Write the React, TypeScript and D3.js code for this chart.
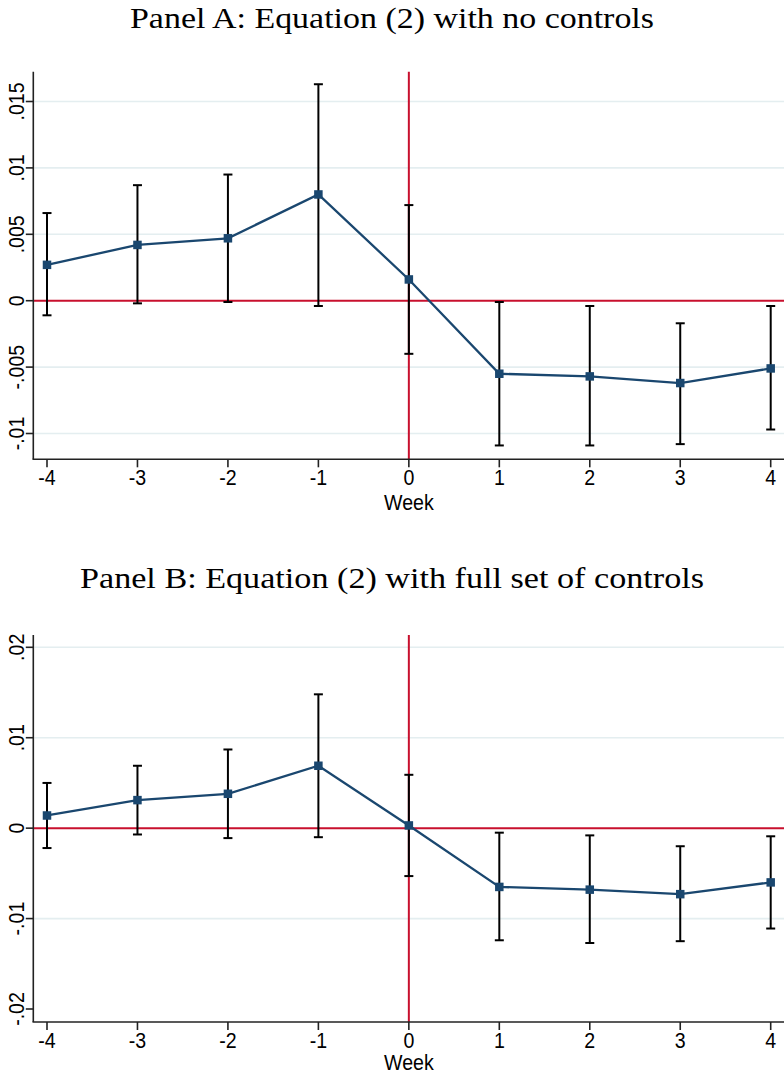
import React from "react";
import * as d3 from "d3";

// ---- Data ----
const weeks = [-4, -3, -2, -1, 0, 1, 2, 3, 4];

const panelACoef = [0.0027, 0.0042, 0.0047, 0.008, 0.0016, -0.0055, -0.0057, -0.0062, -0.0051];
const panelALo = [-0.0011, -0.0002, -0.0001, -0.0004, -0.004, -0.0109, -0.0109, -0.0108, -0.0097];
const panelAHi = [0.0066, 0.0087, 0.0095, 0.0163, 0.0072, -0.0001, -0.0004, -0.0017, -0.0004];
const panelATicks = [-0.01, -0.005, 0, 0.005, 0.01, 0.015];
const panelATickLabels = ["-.01", "-.005", "0", ".005", ".01", ".015"];
const panelAGrid = [-0.01, -0.005, 0.005, 0.01, 0.015];

const panelBCoef = [0.0014, 0.0031, 0.0038, 0.0069, 0.0003, -0.0065, -0.0068, -0.0073, -0.006];
const panelBLo = [-0.0022, -0.0007, -0.0011, -0.001, -0.0053, -0.0124, -0.0127, -0.0125, -0.0111];
const panelBHi = [0.005, 0.0069, 0.0087, 0.0148, 0.0059, -0.0005, -0.0008, -0.002, -0.0009];
const panelBTicks = [-0.02, -0.01, 0, 0.01, 0.02];
const panelBTickLabels = ["-.02", "-.01", "0", ".01", ".02"];
const panelBGrid = [-0.01, 0.01, 0.02];

const xTickLabels = ["-4", "-3", "-2", "-1", "0", "1", "2", "3", "4"];
const titleA = "Panel A: Equation (2) with no controls";
const titleB = "Panel B: Equation (2) with full set of controls";
const xTitle = "Week";

// ---- Styles ----
const NAVY = "#1a476f";
const RED = "#c8102e";
const GRID = "#e4eef0";
const AXIS = "#222";
const SANS = "'Liberation Sans', Arial, sans-serif";
const SERIF = "'Liberation Serif', 'Times New Roman', serif";
const W = 784;
const H = 1073;
const AXIS_X = 33.3;

type PanelProps = {
  title: string;
  titleLen: number;
  titleY: number;
  axisTop: number;
  axisBottom: number;
  weekY: number;
  yDomain: [number, number];
  yRange: [number, number];
  coef: number[];
  lo: number[];
  hi: number[];
  ticks: number[];
  tickLabels: string[];
  grid: number[];
};

function Panel(p: PanelProps) {
  const x = d3.scaleLinear().domain([-4, 4]).range([47, 770.7]);
  const y = d3.scaleLinear().domain(p.yDomain).range(p.yRange);
  const pts: [number, number][] = weeks.map((w, i) => [x(w), y(p.coef[i])]);
  const line = d3.line()(pts) || "";
  const cap = 4.5;
  const ms = 8.5;
  return (
    <g>
      <text
        x={W / 2}
        y={p.titleY}
        textAnchor="middle"
        fontFamily={SERIF}
        fontSize={30}
        textLength={p.titleLen}
        lengthAdjust="spacingAndGlyphs"
        fill="#000"
      >
        {p.title}
      </text>
      {/* grid */}
      {p.grid.map((g) => (
        <line key={"g" + g} x1={AXIS_X + 1} x2={W} y1={y(g)} y2={y(g)} stroke={GRID} strokeWidth={1.6} />
      ))}
      {/* zero lines */}
      <line x1={AXIS_X} x2={W} y1={y(0)} y2={y(0)} stroke={RED} strokeWidth={2} />
      <line x1={x(0)} x2={x(0)} y1={p.axisTop} y2={p.axisBottom} stroke={RED} strokeWidth={2} />
      {/* axes */}
      <line x1={AXIS_X} x2={AXIS_X} y1={p.axisTop} y2={p.axisBottom} stroke={AXIS} strokeWidth={1.6} />
      <line x1={AXIS_X - 0.8} x2={W} y1={p.axisBottom} y2={p.axisBottom} stroke={AXIS} strokeWidth={1.6} />
      {p.ticks.map((t, i) => (
        <g key={"yt" + t}>
          <line x1={AXIS_X - 7.5} x2={AXIS_X} y1={y(t)} y2={y(t)} stroke={AXIS} strokeWidth={1.6} />
          <g transform={`translate(${23.5},${y(t)}) rotate(-90) scale(0.89,1)`}>
            <text textAnchor="middle" fontFamily={SANS} fontSize={22} fill="#000">
              {p.tickLabels[i]}
            </text>
          </g>
        </g>
      ))}
      {weeks.map((w, i) => (
        <g key={"xt" + w}>
          <line x1={x(w)} x2={x(w)} y1={p.axisBottom} y2={p.axisBottom + 8} stroke={AXIS} strokeWidth={1.6} />
          <g transform={`translate(${x(w)},${p.axisBottom + 26}) scale(0.89,1)`}>
            <text textAnchor="middle" fontFamily={SANS} fontSize={22} fill="#000">
              {xTickLabels[i]}
            </text>
          </g>
        </g>
      ))}
      <g transform={`translate(${x(0)},${p.weekY}) scale(0.89,1)`}>
        <text textAnchor="middle" fontFamily={SANS} fontSize={22} fill="#000">
          {xTitle}
        </text>
      </g>
      {/* error bars */}
      {weeks.map((w, i) => (
        <g key={"eb" + w} stroke="#000" strokeWidth={2}>
          <line x1={x(w)} x2={x(w)} y1={y(p.lo[i])} y2={y(p.hi[i])} />
          <line x1={x(w) - cap} x2={x(w) + cap} y1={y(p.lo[i])} y2={y(p.lo[i])} />
          <line x1={x(w) - cap} x2={x(w) + cap} y1={y(p.hi[i])} y2={y(p.hi[i])} />
        </g>
      ))}
      {/* connecting line */}
      <path d={line} fill="none" stroke={NAVY} strokeWidth={2.3} />
      {pts.map(([px, py], i) => (
        <rect key={"m" + i} x={px - ms / 2} y={py - ms / 2} width={ms} height={ms} fill={NAVY} />
      ))}
    </g>
  );
}

export default function App() {
  return (
    <svg
      width={W}
      height={H}
      viewBox={`0 0 ${W} ${H}`}
      style={{ position: "absolute", left: 0, top: 0, background: "#fff" }}
    >
      <rect x={0} y={0} width={W} height={H} fill="#fff" />
      <Panel
        title={titleA}
        titleLen={524}
        titleY={28}
        axisTop={71.7}
        axisBottom={459.3}
        weekY={510}
        yDomain={[-0.01, 0.015]}
        yRange={[433.5, 101.5]}
        coef={panelACoef}
        lo={panelALo}
        hi={panelAHi}
        ticks={panelATicks}
        tickLabels={panelATickLabels}
        grid={panelAGrid}
      />
      <Panel
        title={titleB}
        titleLen={624}
        titleY={588}
        axisTop={635}
        axisBottom={1022}
        weekY={1070}
        yDomain={[-0.02, 0.02]}
        yRange={[1009, 647.3]}
        coef={panelBCoef}
        lo={panelBLo}
        hi={panelBHi}
        ticks={panelBTicks}
        tickLabels={panelBTickLabels}
        grid={panelBGrid}
      />
    </svg>
  );
}
